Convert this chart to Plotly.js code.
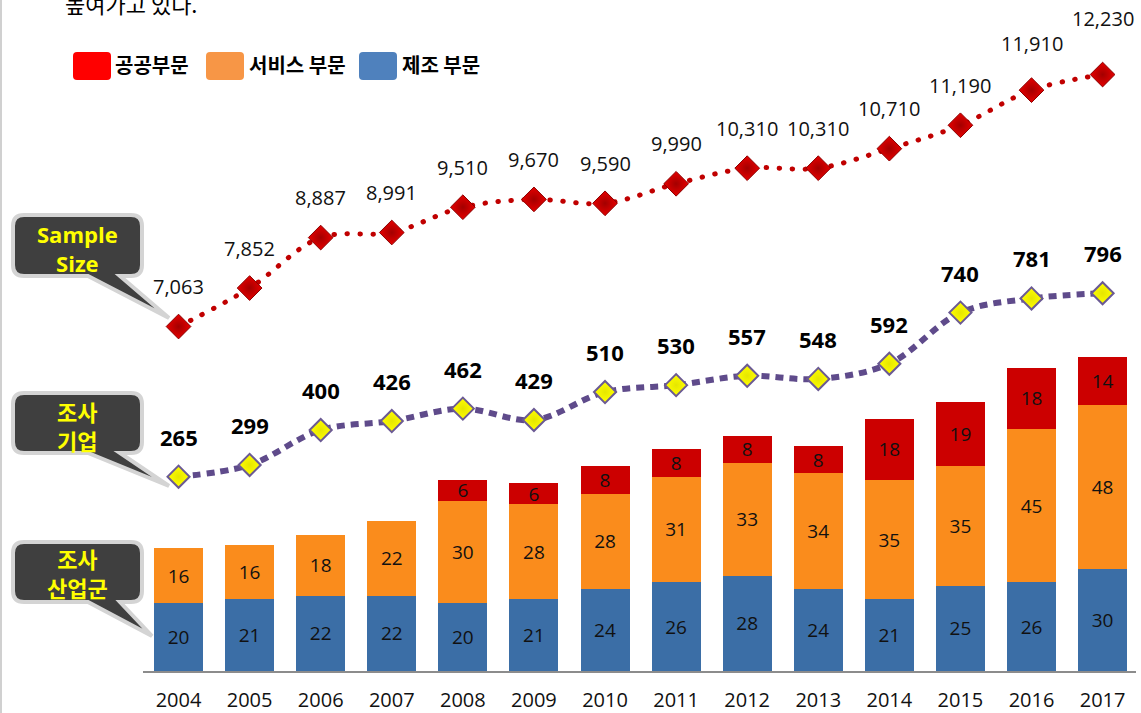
<!DOCTYPE html>
<html>
<head>
<meta charset="utf-8">
<script src="https://cdn.plot.ly/plotly-3.0.1.min.js"></script>
<style>
html,body{margin:0;padding:0;background:#fff;}
#chart{width:1141px;height:713px;}
</style>
</head>
<body>
<div id="chart"></div>
<script>
// ---------- data ----------
const years = ['2004','2005','2006','2007','2008','2009','2010','2011','2012','2013','2014','2015','2016','2017'];
const manufacturing = [20,21,22,22,20,21,24,26,28,24,21,25,26,30];
const services      = [16,16,18,22,30,28,28,31,33,34,35,35,45,48];
const publicSector  = [null,null,null,null,6,6,8,8,8,8,18,19,18,14];
const sampleSize    = [7063,7852,8887,8991,9510,9670,9590,9990,10310,10310,10710,11190,11910,12230];
const firms         = [265,299,400,426,462,429,510,530,557,548,592,740,781,796];
const legendNames   = ['공공부문','서비스 부문','제조 부문'];
const calloutTexts  = ['Sample<br>Size','조사<br>기업','조사<br>산업군'];
const headline      = '높여가고 있다.';

// ---------- layout helpers (pixel -> paper) ----------
const L = 143, R = 5, T = 0, B = 42, W = 1141, H = 713;
const PW = W - L - R, PH = H - T - B;
const px = x => (x - L) / PW;
const py = y => (PH + T - y) / PH;
const P = (x, y) => px(x) + ',' + py(y);

const numFont = 'Open Sans, Noto Sans CJK KR, sans-serif';
const krFont = 'Noto Sans CJK KR, sans-serif';

const barText = {color:'#111', size:19, family:numFont};
const traces = [
  {type:'bar', x:years, y:manufacturing, name:legendNames[2], marker:{color:'#3B6EA6'},
   texttemplate:'%{y}', textposition:'inside', insidetextanchor:'middle', constraintext:'none', textangle:0,
   textfont:barText, hoverinfo:'skip'},
  {type:'bar', x:years, y:services, name:legendNames[1], marker:{color:'#FA8C1C'},
   texttemplate:'%{y}', textposition:'inside', insidetextanchor:'middle', constraintext:'none', textangle:0,
   textfont:barText, hoverinfo:'skip'},
  {type:'bar', x:years, y:publicSector, name:legendNames[0], marker:{color:'#CC0000'},
   texttemplate:'%{y}', textposition:'inside', insidetextanchor:'middle', constraintext:'none', textangle:0,
   textfont:barText, hoverinfo:'skip'},
  {type:'scatter', mode:'lines+markers', x:years, y:sampleSize, yaxis:'y2', name:'Sample Size',
   line:{color:'#C00000', width:5, dash:'0.5px,12.5px', shape:'spline', smoothing:1},
   marker:{symbol:'diamond', size:19, color:'#E60000', gradient:{type:'radial', color:'#A30000'},
           line:{color:'#8B0000', width:1}}, hoverinfo:'skip'},
  {type:'scatter', mode:'lines+markers', x:years, y:firms, yaxis:'y3', name:'조사 기업',
   line:{color:'#5F4B8B', width:6, dash:'8px,6px', shape:'spline', smoothing:1},
   marker:{symbol:'diamond', size:17, color:'#FFFF00', gradient:{type:'radial', color:'#E6E600'},
           line:{color:'#6B5A94', width:2}}, hoverinfo:'skip'}
];

const annotations = [];
sampleSize.forEach((v, i) => {
  annotations.push({x:i, y:v, xref:'x', yref:'y2', yshift:(i>=12? (i==13?56:47):40),
    text:v.toLocaleString('en-US'), showarrow:false, font:{size:20, color:'#111', family:numFont}});
});
firms.forEach((v, i) => {
  annotations.push({x:i, y:v, xref:'x', yref:'y3', yshift:40,
    text:'<b>'+v+'</b>', showarrow:false, font:{size:22, color:'#000', family:numFont}});
});

// callouts
const callouts = [
  {top:215, bottom:276, tip:[169,318], text:calloutTexts[0], ty:249},
  {top:393, bottom:453, tip:[169,486], text:calloutTexts[1], ty:426},
  {top:542, bottom:602, tip:[152,636], text:calloutTexts[2], ty:573}
];
const shapes = [];
callouts.forEach(c => {
  const x0 = 13, x1 = 142, y0 = c.top, y1 = c.bottom, r = 11, bx0 = 88, bx1 = 120;
  const path = 'M' + P(x0+r,y0) + ' L' + P(x1-r,y0) + ' Q' + P(x1,y0) + ' ' + P(x1,y0+r) +
    ' L' + P(x1,y1-r) + ' Q' + P(x1,y1) + ' ' + P(x1-r,y1) + ' L' + P(bx1,y1) +
    ' L' + P(c.tip[0],c.tip[1]) + ' L' + P(bx0,y1) + ' L' + P(x0+r,y1) +
    ' Q' + P(x0,y1) + ' ' + P(x0,y1-r) + ' L' + P(x0,y0+r) + ' Q' + P(x0,y0) + ' ' + P(x0+r,y0) + ' Z';
  shapes.push({type:'path', xref:'paper', yref:'paper', path:path, fillcolor:'#3F3F3F',
    line:{color:'#D4D4D4', width:4}, layer:'above'});
  annotations.push({xref:'paper', yref:'paper', x:px(77), y:py(c.ty), xanchor:'center', yanchor:'middle',
    text:'<b>'+c.text+'</b>', showarrow:false, font:{size:22, color:'#FFFF00', family:numFont}});
});

// custom legend
const legendItems = [
  {x0:73, x1:111, color:'#FF0000', tx:113, name:legendNames[0]},
  {x0:206, x1:244, color:'#F79646', tx:247, name:legendNames[1]},
  {x0:359, x1:397, color:'#4F81BD', tx:400, name:legendNames[2]}
];
legendItems.forEach(it => {
  const y0 = 52, y1 = 80, r = 4;
  const path = 'M' + P(it.x0+r,y0) + ' L' + P(it.x1-r,y0) + ' Q' + P(it.x1,y0) + ' ' + P(it.x1,y0+r) +
    ' L' + P(it.x1,y1-r) + ' Q' + P(it.x1,y1) + ' ' + P(it.x1-r,y1) + ' L' + P(it.x0+r,y1) +
    ' Q' + P(it.x0,y1) + ' ' + P(it.x0,y1-r) + ' L' + P(it.x0,y0+r) + ' Q' + P(it.x0,y0) + ' ' + P(it.x0+r,y0) + ' Z';
  shapes.push({type:'path', xref:'paper', yref:'paper', path:path, fillcolor:it.color,
    line:{color:'rgba(0,0,0,0)', width:0}});
  annotations.push({xref:'paper', yref:'paper', x:px(it.tx), y:py(64), xanchor:'left', yanchor:'middle',
    text:'<b>'+it.name+'</b>', showarrow:false, font:{size:20, color:'#000', family:krFont}});
});

// headline (clipped at top)
annotations.push({xref:'paper', yref:'paper', x:px(63), y:py(3), xanchor:'left', yanchor:'middle',
  text:headline, showarrow:false, font:{size:22, color:'#000', family:krFont}});

// page border line at left
shapes.push({type:'line', xref:'paper', yref:'paper', x0:px(1), x1:px(1), y0:py(0), y1:py(713),
  line:{color:'#D0D0D0', width:2}});

const layout = {
  width:W, height:H,
  margin:{l:L, r:R, t:T, b:B, pad:0},
  paper_bgcolor:'#fff', plot_bgcolor:'rgba(0,0,0,0)',
  barmode:'stack', bargap:0.31,
  showlegend:false,
  xaxis:{type:'category', range:[-0.5,13.47], showgrid:false, zeroline:false,
    showline:true, linecolor:'#8C8C8C', linewidth:2, ticks:'', ticklabelstandoff:10,
    tickfont:{size:20, color:'#111', family:numFont}, fixedrange:true},
  yaxis:{range:[0, PH/3.41], visible:false, fixedrange:true},
  yaxis2:{range:[0, PH/0.04877], overlaying:'y', visible:false, fixedrange:true},
  yaxis3:{range:[-(PH-568.2)/0.3454, 568.2/0.3454], overlaying:'y', visible:false, fixedrange:true},
  shapes:shapes,
  annotations:annotations,
  hovermode:false
};

Plotly.newPlot('chart', traces, layout, {displayModeBar:false, staticPlot:true}).then(() => {
  document.querySelectorAll('.js-line').forEach(p => {
    const s = p.style.stroke || p.getAttribute('stroke') || '';
    if (s.indexOf('192, 0, 0') >= 0 || s.toLowerCase() === '#c00000') p.style.strokeLinecap = 'round';
  });
});
</script>
</body>
</html>
